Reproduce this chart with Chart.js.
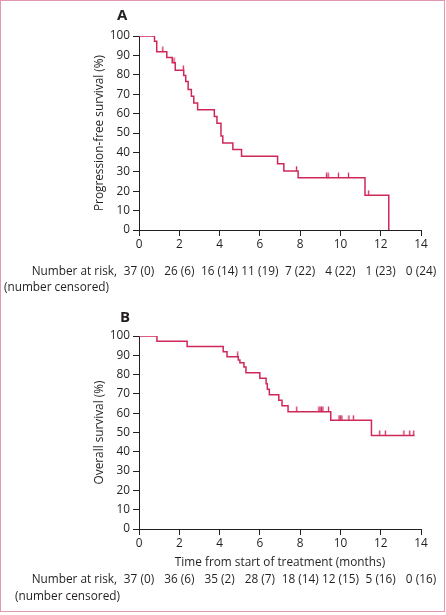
<!DOCTYPE html>
<html>
<head>
<meta charset="utf-8">
<script src="https://cdn.jsdelivr.net/npm/chart.js@4.4.1/dist/chart.umd.min.js"></script>
<style>
  html, body { margin: 0; padding: 0; background: #fff; }
  #frame { position: absolute; left: 0; top: 0; width: 445px; height: 612px; box-sizing: border-box; border: 1px solid #e398b0; }
  canvas { position: absolute; left: 0; }
  #cA { top: 0; }
  #cB { top: 300px; }
</style>
</head>
<body>
<div id="frame"></div>
<canvas id="cA" width="446" height="300"></canvas>
<canvas id="cB" width="446" height="315"></canvas>
<script>
// ---- Data ----
const xTicks = [0, 2, 4, 6, 8, 10, 12, 14];

// Panel A: progression-free survival (step points: time in months, survival %)
const pfsTimes = [0, 0.77, 0.88, 1.38, 1.65, 1.80, 2.22, 2.32, 2.44, 2.60, 2.72, 2.91, 3.74, 3.87, 4.07, 4.16, 4.66, 5.09, 6.88, 7.19, 7.90, 11.22, 12.40];
const pfsSurv  = [100, 97.3, 91.9, 88.9, 86.2, 82.3, 79.6, 76.6, 72.4, 68.9, 65.5, 62.0, 58.5, 55.0, 48.4, 44.9, 41.5, 38.0, 34.2, 30.4, 26.9, 17.9, 0];
const pfsCensor = [0.2, 1.18, 1.74, 2.2, 7.82, 9.31, 9.39, 9.9, 10.4, 11.4];
const pfsAtRisk = [37, 26, 16, 11, 7, 4, 1, 0];
const pfsCensored = [0, 6, 14, 19, 22, 22, 23, 24];

// Panel B: overall survival
const osTimes = [0, 0.89, 2.39, 4.18, 4.37, 4.93, 5.01, 5.21, 5.31, 6.00, 6.31, 6.37, 6.47, 6.94, 7.10, 7.40, 9.52, 11.54, 13.68];
const osSurv  = [100, 97.3, 94.6, 91.9, 89.2, 87.6, 86.2, 83.9, 81.0, 78.1, 75.3, 72.4, 69.6, 66.7, 63.8, 60.8, 56.4, 48.5, 48.5];
const osCensor = [4.9, 7.83, 8.93, 8.99, 9.06, 9.13, 9.41, 9.93, 9.99, 10.07, 10.42, 10.64, 11.95, 12.23, 13.15, 13.44, 13.64];
const osAtRisk = [37, 36, 35, 28, 18, 12, 5, 0];
const osCensored = [0, 6, 2, 7, 14, 15, 16, 16];

// ---- helpers ----
const LINE = '#cf2858';
const TXT = '#231f20';
const FONT = '"Open Sans", "Noto Sans", sans-serif';
const FS = 11.8;

function stepValue(times, surv, t) {
  let v = surv[0];
  for (let i = 0; i < times.length; i++) { if (times[i] <= t) v = surv[i]; }
  return v;
}
function tickMark() {
  const c = document.createElement('canvas');
  c.width = 3; c.height = 11;
  const g = c.getContext('2d');
  g.strokeStyle = LINE; g.lineWidth = 1.3;
  g.beginPath(); g.moveTo(1.5, 0.5); g.lineTo(1.5, 5.5); g.stroke();
  return c;
}
const censorImg = tickMark();

const textPlugin = {
  id: 'texts',
  afterDraw(chart) {
    const o = chart.options.plugins.texts;
    const ctx = chart.ctx;
    const xs = chart.scales.x;
    const area = chart.chartArea;
    ctx.save();
    ctx.fillStyle = TXT;
    // panel letter
    ctx.font = 'bold 15px ' + FONT;
    ctx.textAlign = 'left'; ctx.textBaseline = 'middle';
    ctx.fillText(o.letter, o.letterX, o.letterY);
    // y title
    ctx.font = FS + 'px ' + FONT;
    ctx.save();
    ctx.translate(o.yTitleX, (area.top + area.bottom) / 2);
    ctx.rotate(-Math.PI / 2);
    ctx.textAlign = 'center'; ctx.textBaseline = 'middle';
    ctx.fillText(o.yTitle, 0, 0);
    ctx.restore();
    // x title
    if (o.xTitle) {
      ctx.textAlign = 'center'; ctx.textBaseline = 'middle';
      ctx.fillText(o.xTitle, (area.left + area.right) / 2, o.xTitleY);
    }
    // risk table
    ctx.textBaseline = 'middle';
    ctx.textAlign = 'right';
    ctx.fillText('Number at risk,', 117, o.riskY);
    ctx.textAlign = 'left';
    ctx.fillText('(number censored)', o.censLabelX, o.censY);
    ctx.textAlign = 'center';
    xTicks.forEach((t, i) => {
      ctx.fillText(o.atRisk[i] + ' (' + o.censored[i] + ')', xs.getPixelForValue(t), o.riskY);
    });
    ctx.restore();
  }
};

function makeChart(id, times, surv, censor, pad, opts) {
  const curve = times.map((t, i) => ({ x: t, y: surv[i] }));
  const cens = censor.map(t => ({ x: t, y: stepValue(times, surv, t) }));
  return new Chart(document.getElementById(id), {
    type: 'line',
    data: {
      datasets: [
        { data: curve, stepped: true, borderColor: LINE, borderWidth: 1.5, pointRadius: 0, fill: false },
        { data: cens, showLine: false, pointStyle: censorImg, pointRadius: 5, borderColor: LINE }
      ]
    },
    options: {
      responsive: false, animation: false, devicePixelRatio: 1,
      layout: { padding: pad },
      plugins: { legend: { display: false }, tooltip: { enabled: false }, texts: opts },
      scales: {
        x: {
          type: 'linear', min: 0, max: 14,
          afterFit: s => { s.height = 30; },
          afterBuildTicks: s => { s.ticks = xTicks.map(v => ({ value: v })); },
          grid: { drawOnChartArea: false, tickLength: 6, color: TXT, tickWidth: 1 },
          border: { color: TXT, width: 1 },
          ticks: { color: TXT, font: { family: FONT, size: FS }, padding: 2, maxRotation: 0 }
        },
        y: {
          min: 0, max: 100,
          afterFit: s => { s.width = 139; },
          grid: { drawOnChartArea: false, tickLength: 6, color: TXT, tickWidth: 1 },
          border: { color: TXT, width: 1 },
          ticks: { stepSize: 10, color: TXT, font: { family: FONT, size: FS }, padding: 3 }
        }
      }
    },
    plugins: [textPlugin]
  });
}

makeChart('cA', pfsTimes, pfsSurv, pfsCensor,
  { left: 0, right: 25, top: 36, bottom: 40 },
  { letter: 'A', letterX: 117, letterY: 16, yTitle: 'Progression-free survival (%)', yTitleX: 100,
    xTitle: null, riskY: 272, censY: 288, censLabelX: 4, atRisk: pfsAtRisk, censored: pfsCensored });

makeChart('cB', osTimes, osSurv, osCensor,
  { left: 0, right: 25, top: 36, bottom: 56 },
  { letter: 'B', letterX: 120, letterY: 18, yTitle: 'Overall survival (%)', yTitleX: 100,
    xTitle: 'Time from start of treatment (months)', xTitleY: 263,
    riskY: 280, censY: 297, censLabelX: 15, atRisk: osAtRisk, censored: osCensored });
</script>
</body>
</html>
